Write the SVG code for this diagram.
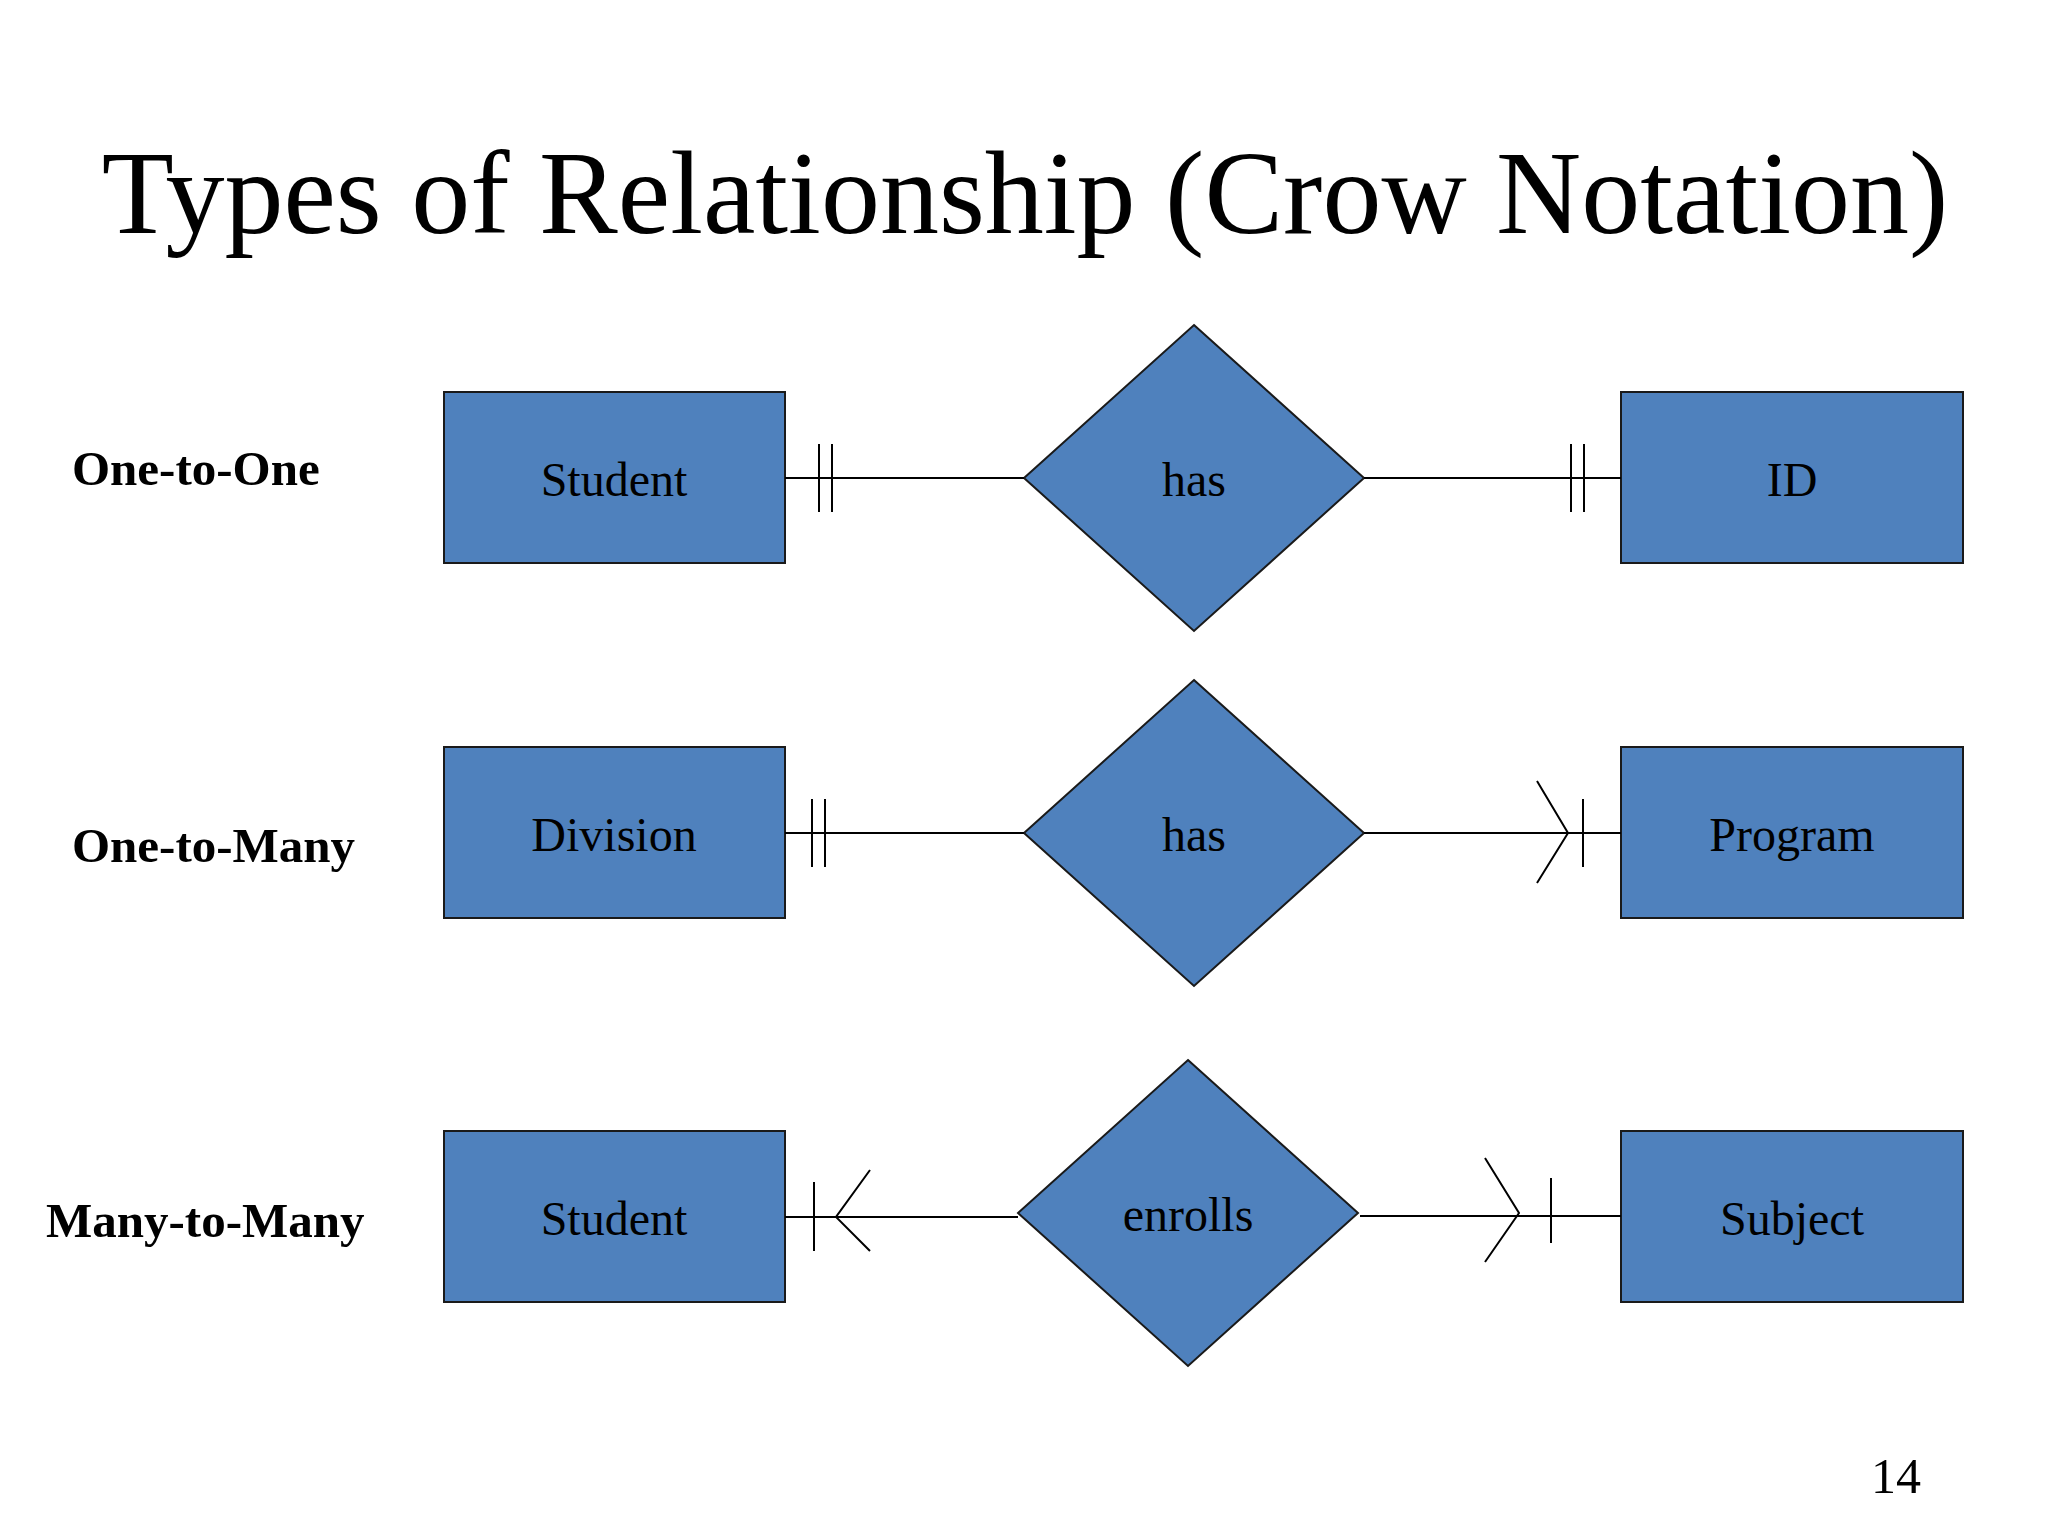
<svg xmlns="http://www.w3.org/2000/svg" width="2048" height="1536" viewBox="0 0 2048 1536">
<style>
.e{fill:#4f81bd;stroke:#1a1a1a;stroke-width:2}
.t{font-family:"Liberation Serif",serif;font-size:48px;fill:#000;text-anchor:middle}
.l{font-family:"Liberation Serif",serif;font-size:49px;font-weight:bold;fill:#000}
.c{stroke:#000;stroke-width:2;fill:none}
</style>
<rect width="2048" height="1536" fill="#fff"/>
<text x="1025" y="233" font-family="Liberation Serif,serif" font-size="118" text-anchor="middle">Types of Relationship (Crow Notation)</text>
<text class="l" x="72" y="485">One-to-One</text>
<text class="l" x="72" y="862">One-to-Many</text>
<text class="l" x="46" y="1237">Many-to-Many</text>
<g id="student1"><rect class="e" x="444" y="392" width="341" height="171"/><text class="t" x="614" y="496">Student</text></g>
<g id="has1"><polygon class="e" points="1194,325 1364,478 1194,631 1024,478"/><text class="t" x="1194" y="496">has</text></g>
<g id="id"><rect class="e" x="1621" y="392" width="342" height="171"/><text class="t" x="1792" y="496">ID</text></g>
<g id="division"><rect class="e" x="444" y="747" width="341" height="171"/><text class="t" x="614" y="851">Division</text></g>
<g id="has2"><polygon class="e" points="1194,680 1364,833 1194,986 1024,833"/><text class="t" x="1194" y="851">has</text></g>
<g id="program"><rect class="e" x="1621" y="747" width="342" height="171"/><text class="t" x="1792" y="851">Program</text></g>
<g id="student2"><rect class="e" x="444" y="1131" width="341" height="171"/><text class="t" x="614" y="1235">Student</text></g>
<g id="enrolls"><polygon class="e" points="1188,1060 1358,1213 1188,1366 1018,1213"/><text class="t" x="1188" y="1231">enrolls</text></g>
<g id="subject"><rect class="e" x="1621" y="1131" width="342" height="171"/><text class="t" x="1792" y="1235">Subject</text></g>
<g id="connectors" class="c">
<path d="M785 478H1024M819 444V512M832 444V512"/>
<path d="M1364 478H1621M1571 444V512M1584 444V512"/>
<path d="M785 833H1024M812 799V867M825 799V867"/>
<path d="M1364 833H1621M1537 781L1568 833L1537 883M1583 799V867"/>
<path d="M785 1217H1018M814 1182V1251M870 1170L836 1217L870 1251"/>
<path d="M1360 1216H1621M1485 1158L1519 1213L1485 1262M1551 1178V1243"/>
</g>
<text x="1896" y="1493" font-family="Liberation Serif,serif" font-size="50" text-anchor="middle">14</text>
</svg>
